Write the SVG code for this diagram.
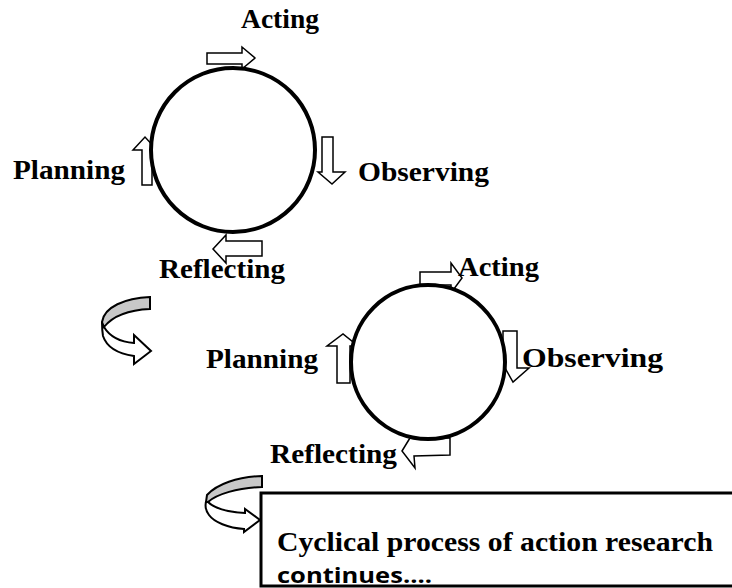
<svg xmlns="http://www.w3.org/2000/svg" width="732" height="588" viewBox="0 0 732 588">
<style>
.lbl{font-family:"Liberation Serif","Times New Roman",serif;font-weight:bold;font-size:27px;fill:#000}
.arr{fill:#fff;stroke:#000;stroke-width:1.5;stroke-linejoin:miter}
.cyc{fill:#fff;stroke:#000;stroke-width:4}
.gray{fill:#c8c8c8;stroke:#000;stroke-width:2}
.wht{fill:#fff;stroke:#000;stroke-width:2}
</style>
<rect width="732" height="588" fill="#fff"/>
<g id="connectors">
  <polygon class="arr" points="207,53 242,53 242,47 255,58 242,69 242,64 207,64"/>
  <polygon class="arr" points="322,137 333,137 333,172 345,172 332,184 318,172 322,172"/>
  <polygon class="arr" points="142,185 142,150 133,150 145,137 157,150 152,150 152,185"/>
  <polygon class="arr" points="213,249 226,235 226,241 262,241 262,256 226,256 226,263"/>
  <polygon class="arr" points="420,285 420,272 451,272 451,263 462,278 451,293 451,285"/>
  <polygon class="arr" points="503,331 517,331 517,368 529,368 513,382 505,368 503,368"/>
  <polygon class="arr" points="337,383 337,346 327,346 343,334 358,346 350,346 350,383"/>
  <polygon class="arr" points="402,451 413,433 413,438 450,438 450,455 414,456 415,468"/>
  <g id="uturn1">
    <path class="wht" d="M104,327 C110,337 121,342 134,343 L134,335 L151,351 L134,364 L134,356 C120,354 107,348 103,336 C102,330 102,325 102,322 Z"/>
    <path class="gray" d="M150,297 C125,298 104,307 102,322 L104,327 C112,317 128,310 150,309 Z"/>
  </g>
  <g id="uturn2">
    <path class="wht" d="M208,502 C215,509 228,512 245,513 L245,509 L260,520 L244,532 L244,529 C228,528 214,522 209,515 C206,511 205,506 206,502 Z"/>
    <path class="gray" d="M262,476 C237,477 217,484 207,495 L206,502 L208,502 C217,494 237,488 262,487 Z"/>
  </g>
</g>
<g id="cycle1">
  <circle class="cyc" cx="233" cy="150" r="82"/>
</g>
<g id="cycle2">
  <circle class="cyc" cx="428" cy="362" r="77"/>
</g>
<g id="acting1"><text class="lbl" x="241" y="28" textLength="78" lengthAdjust="spacingAndGlyphs">Acting</text></g>
<g id="observing1"><text class="lbl" x="358" y="181" textLength="131" lengthAdjust="spacingAndGlyphs">Observing</text></g>
<g id="planning1"><text class="lbl" x="13" y="179" textLength="112" lengthAdjust="spacingAndGlyphs">Planning</text></g>
<g id="reflecting1"><text class="lbl" x="159" y="278" textLength="126" lengthAdjust="spacingAndGlyphs">Reflecting</text></g>
<g id="acting2"><text class="lbl" x="458" y="276" textLength="81" lengthAdjust="spacingAndGlyphs">Acting</text></g>
<g id="observing2"><text class="lbl" x="522" y="367" textLength="141" lengthAdjust="spacingAndGlyphs">Observing</text></g>
<g id="planning2"><text class="lbl" x="206" y="368" textLength="112" lengthAdjust="spacingAndGlyphs">Planning</text></g>
<g id="reflecting2"><text class="lbl" x="270" y="463" textLength="127" lengthAdjust="spacingAndGlyphs">Reflecting</text></g>
<g id="note">
  <rect x="261" y="493" width="490" height="93" fill="#fff" stroke="#000" stroke-width="3"/>
  <text x="277" y="551" font-family="Liberation Serif, Times New Roman, serif" font-weight="bold" font-size="28" textLength="436" lengthAdjust="spacingAndGlyphs">Cyclical process of action research</text>
  <text x="277" y="583" font-family="Open Sans, Liberation Sans, sans-serif" font-weight="bold" font-size="22" textLength="155" lengthAdjust="spacingAndGlyphs">continues....</text>
</g>
</svg>
